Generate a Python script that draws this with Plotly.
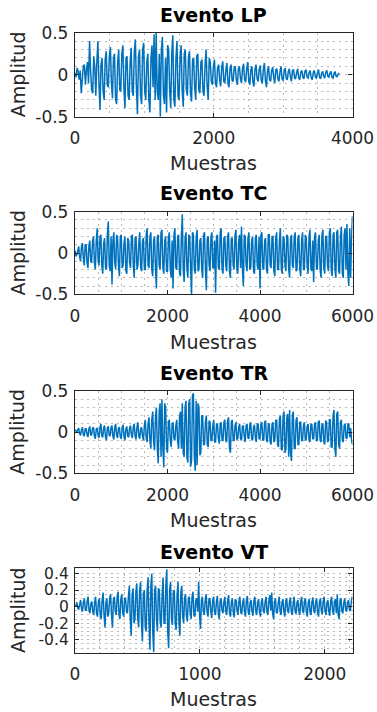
import numpy as np
import plotly.graph_objects as go

# ---------------- data ----------------
titles = ["Evento LP", "Evento TC", "Evento TR", "Evento VT"]
sample_steps = [15, 20, 20, 7.5]

lp_values = [
    0.02, -0.03, 0.08, 0.04, -0.06, 0.05, -0.22, -0.05, 0.1, 0.12, -0.12, 0.06, 0.15, -0.1, 0.4, 0.05, -0.18, -0.22, 0.22, 0.1,
    -0.25, 0.15, 0.4, -0.1, -0.42, 0.12, 0.2, -0.2, -0.3, 0.18, 0.28, -0.12, -0.15, 0.22, 0.33, -0.1, -0.28, 0.2, 0.25, -0.3,
    -0.35, 0.15, 0.3, -0.18, -0.2, 0.25, 0.35, -0.15, -0.4, 0.2, 0.22, -0.25, -0.3, 0.15, 0.32, -0.2, -0.25, 0.28, 0.42, -0.15,
    -0.47, 0.22, 0.3, -0.25, -0.35, 0.3, 0.38, -0.2, -0.3, 0.15, 0.25, -0.3, -0.45, 0.2, 0.35, -0.15, 0.48, -0.3, 0.5, -0.2,
    -0.3, 0.25, -0.5, 0.3, 0.45, -0.25, -0.35, 0.2, -0.45, 0.35, 0.3, -0.2, -0.4, 0.25, 0.47, -0.3, -0.38, 0.2, 0.4, -0.25,
    -0.3, 0.22, 0.35, -0.2, -0.38, 0.25, 0.3, -0.18, -0.25, 0.2, 0.28, -0.22, -0.32, 0.18, 0.2, -0.15, -0.3, 0.22, 0.25, -0.18,
    -0.22, 0.15, 0.18, -0.2, -0.25, 0.12, 0.3, -0.15, -0.3, 0.2, 0.15, -0.08, -0.12, 0.1, 0.18, -0.1, -0.15, 0.08, 0.12, -0.06,
    -0.14, 0.09, 0.16, -0.08, -0.1, 0.06, 0.14, -0.1, -0.15, 0.08, 0.12, -0.07, -0.08, 0.09, 0.1, -0.06, -0.12, 0.07, 0.1, -0.05,
    -0.1, 0.08, 0.13, -0.06, -0.09, 0.07, 0.15, -0.08, -0.12, 0.06, 0.1, -0.09, -0.14, 0.07, 0.12, -0.05, -0.08, 0.06, 0.11, -0.07,
    -0.1, 0.06, 0.14, -0.07, -0.15, 0.05, 0.1, -0.06, -0.08, 0.05, 0.09, -0.04, -0.1, 0.06, 0.07, -0.05, -0.08, 0.04, 0.1, -0.05,
    -0.07, 0.04, 0.08, -0.05, -0.06, 0.04, 0.07, -0.03, -0.08, 0.05, 0.06, -0.04, -0.05, 0.03, 0.07, -0.04, -0.06, 0.03, 0.05, -0.03,
    -0.05, 0.04, 0.06, -0.03, -0.04, 0.03, 0.05, -0.04, -0.06, 0.03, 0.05, -0.03, -0.04, 0.02, 0.06, -0.03, -0.05, 0.02, 0.04, -0.02,
    -0.04, 0.03, 0.05, -0.02, -0.03, 0.02, 0.04, -0.03, -0.04, 0.02, 0.03, -0.02, -0.02, 0.01, 0.02,
]

tc_values = [
    0.03, -0.04, -0.02, 0.06, 0.08, -0.05, -0.1, 0.08, 0.12, -0.06, -0.15, 0.1, 0.1, -0.12, -0.18, 0.08, 0.15, -0.1, -0.12, 0.15,
    0.2, -0.12, -0.2, 0.15, 0.3, -0.1, -0.15, 0.2, 0.22, -0.15, -0.25, 0.12, 0.18, -0.18, -0.2, 0.22, 0.38, -0.15, -0.22, 0.2,
    -0.38, 0.15, 0.25, -0.12, -0.2, 0.22, 0.18, -0.15, -0.28, 0.2, 0.22, -0.18, -0.15, 0.12, 0.2, -0.22, -0.25, 0.18, 0.15, -0.12,
    -0.18, 0.2, 0.22, -0.15, -0.3, 0.18, 0.2, -0.2, -0.15, 0.12, 0.25, -0.18, -0.22, 0.15, 0.18, -0.2, -0.2, 0.22, 0.3, -0.15,
    -0.18, 0.2, 0.25, -0.2, -0.28, 0.15, 0.2, -0.18, -0.43, 0.2, 0.22, -0.15, -0.2, 0.25, 0.28, -0.18, -0.25, 0.15, 0.2, -0.22,
    -0.22, 0.18, 0.25, -0.2, -0.3, 0.15, -0.43, 0.22, 0.3, -0.18, -0.2, 0.2, 0.22, -0.25, -0.28, 0.2, 0.47, -0.2, -0.35, 0.18,
    0.25, -0.2, -0.3, 0.22, 0.2, -0.18, -0.5, 0.25, 0.22, -0.2, -0.25, 0.18, 0.28, -0.22, -0.2, 0.15, 0.18, -0.2, -0.3, 0.22,
    0.25, -0.2, -0.45, 0.18, 0.2, -0.15, -0.22, 0.2, 0.25, -0.18, -0.18, 0.15, -0.48, 0.2, 0.22, -0.18, -0.2, 0.25, 0.3, -0.2,
    -0.25, 0.18, 0.2, -0.15, -0.22, 0.2, 0.25, -0.22, -0.3, 0.18, 0.18, -0.15, -0.2, 0.22, 0.28, -0.2, -0.25, 0.15, 0.22, -0.18,
    0.32, -0.2, -0.4, 0.22, 0.2, -0.15, -0.22, 0.18, 0.25, -0.2, -0.18, 0.15, 0.2, -0.22, -0.25, 0.18, 0.22, -0.15, -0.2, 0.2,
    -0.43, 0.22, 0.25, -0.18, -0.2, 0.15, 0.18, -0.2, -0.25, 0.22, 0.22, -0.15, -0.18, 0.2, 0.2, -0.22, -0.28, 0.18, 0.25, -0.2,
    -0.2, 0.15, 0.3, -0.18, -0.25, 0.2, 0.18, -0.15, -0.22, 0.22, 0.2, -0.2, -0.3, 0.18, 0.22, -0.15, -0.18, 0.2, 0.25, -0.22,
    -0.2, 0.18, 0.22, -0.2, -0.28, 0.15, 0.25, -0.2, -0.2, 0.22, 0.18, -0.15, -0.25, 0.2, 0.28, -0.18, -0.22, 0.15, -0.35, 0.2,
    0.25, -0.18, -0.2, 0.15, 0.22, -0.2, -0.3, 0.22, 0.28, -0.18, -0.25, 0.2, 0.2, -0.15, -0.22, 0.25, 0.3, -0.2, -0.28, 0.22,
    0.25, -0.2, -0.3, 0.25, 0.28, -0.22, -0.25, 0.2, 0.32, -0.25, -0.3, 0.22, 0.3, -0.2, 0.35, -0.25, -0.4, 0.3, -0.3, 0.2, 0.45,
]

tr_values = [
    0.03, 0.01, 0.0, 0.03, 0.05, -0.02, -0.04, 0.03, 0.06, -0.03, -0.05, 0.04, 0.04, -0.03, -0.06, 0.04, 0.07, -0.04, -0.03, 0.05,
    0.06, -0.05, -0.08, 0.04, 0.05, -0.04, -0.07, 0.06, 0.1, -0.05, -0.06, 0.05, 0.08, -0.06, -0.1, 0.05, 0.07, -0.04, -0.05, 0.06,
    0.08, -0.05, -0.09, 0.06, 0.1, -0.04, -0.07, 0.05, 0.06, -0.06, -0.08, 0.05, 0.09, -0.06, -0.1, 0.04, 0.07, -0.05, -0.06, 0.05,
    0.08, -0.04, -0.07, 0.06, 0.1, -0.05, -0.09, 0.06, 0.12, -0.05, -0.08, 0.04, 0.06, -0.05, -0.1, 0.08, 0.15, -0.08, -0.12, 0.1,
    0.18, -0.1, -0.2, 0.15, 0.25, -0.12, -0.22, 0.18, 0.3, -0.2, -0.38, 0.25, 0.35, -0.3, 0.4, -0.2, -0.43, 0.35, 0.3, -0.2,
    -0.25, 0.12, 0.15, -0.1, -0.18, 0.1, 0.12, -0.08, -0.1, 0.08, 0.15, -0.12, -0.2, 0.18, 0.25, -0.2, 0.35, -0.25, -0.3, 0.3,
    0.38, -0.3, -0.37, 0.35, 0.4, -0.42, -0.35, 0.45, 0.47, -0.3, -0.47, 0.38, -0.4, 0.35, 0.3, -0.28, -0.25, 0.2, 0.2, -0.15,
    -0.15, 0.12, 0.2, -0.15, -0.18, 0.14, 0.12, -0.1, -0.1, 0.08, 0.15, -0.12, -0.12, 0.1, 0.1, -0.08, -0.14, 0.1, 0.12, -0.1,
    -0.1, 0.12, 0.15, -0.1, -0.12, 0.14, 0.18, -0.2, -0.25, 0.12, 0.15, -0.1, -0.1, 0.08, 0.12, -0.09, -0.08, 0.06, 0.1, -0.08,
    -0.1, 0.07, 0.08, -0.06, -0.12, 0.08, 0.1, -0.07, -0.08, 0.09, 0.12, -0.08, -0.1, 0.06, 0.09, -0.07, -0.12, 0.1, 0.1, -0.08,
    -0.08, 0.1, 0.12, -0.09, -0.1, 0.12, 0.14, -0.1, -0.12, 0.1, 0.1, -0.12, -0.15, 0.1, 0.12, -0.12, -0.1, 0.14, 0.15, -0.15,
    -0.18, 0.16, 0.2, -0.2, -0.22, 0.2, 0.25, -0.25, -0.2, 0.18, 0.22, -0.3, 0.27, -0.25, -0.35, 0.2, 0.25, -0.2, -0.2, 0.15,
    0.18, -0.15, -0.15, 0.12, 0.12, -0.1, -0.1, 0.08, 0.12, -0.1, -0.08, 0.07, 0.1, -0.1, -0.12, 0.09, 0.1, -0.08, -0.08, 0.1,
    0.12, -0.1, -0.1, 0.12, 0.14, -0.1, -0.12, 0.1, 0.1, -0.12, -0.15, 0.14, 0.12, -0.12, -0.1, 0.15, 0.15, -0.18, -0.18, 0.2,
    0.27, -0.2, -0.3, 0.22, 0.25, -0.15, -0.2, 0.12, 0.15, -0.1, -0.12, 0.08, 0.1, -0.07, -0.08, 0.1, 0.1, -0.06, 0.05, -0.1, -0.15,
]

vt_values = [
    0.02, 0.0, 0.05, -0.02, -0.03, 0.04, 0.08, -0.03, -0.06, 0.05, 0.1, -0.04, -0.05, 0.07, 0.12, -0.05, -0.08, 0.04, 0.06, -0.06,
    -0.1, 0.05, 0.12, -0.08, -0.12, 0.06, 0.1, -0.1, -0.15, 0.08, 0.17, -0.1, -0.25, 0.05, 0.1, -0.12, -0.08, 0.1, 0.15, -0.1,
    -0.25, 0.08, 0.12, -0.06, -0.1, 0.12, 0.18, -0.1, -0.15, 0.1, 0.15, -0.08, -0.12, 0.1, 0.1, -0.06, -0.08, 0.12, 0.25, -0.15,
    -0.35, 0.15, 0.22, -0.2, -0.15, 0.18, 0.28, -0.15, -0.25, 0.2, 0.3, -0.2, -0.42, 0.15, 0.2, -0.25, -0.3, 0.2, 0.35, -0.2,
    -0.52, 0.25, 0.4, -0.3, -0.55, 0.2, 0.25, -0.15, -0.3, 0.22, 0.2, -0.18, -0.25, 0.15, 0.35, -0.2, -0.2, 0.25, 0.45, -0.3,
    -0.5, 0.2, 0.3, -0.15, -0.22, 0.18, 0.2, -0.2, -0.28, 0.15, 0.3, -0.2, -0.35, 0.18, 0.25, -0.12, -0.2, 0.1, 0.15, -0.12,
    -0.18, 0.1, 0.12, -0.08, -0.15, 0.12, 0.18, -0.1, -0.12, 0.08, 0.1, -0.06, 0.3, -0.1, -0.27, 0.08, 0.12, -0.06, -0.1, 0.08,
    0.15, -0.07, -0.12, 0.09, 0.1, -0.06, -0.14, 0.08, 0.12, -0.07, -0.1, 0.06, 0.13, -0.08, -0.15, 0.07, 0.1, -0.05, -0.08, 0.06,
    0.12, -0.06, -0.1, 0.07, 0.14, -0.08, -0.12, 0.06, 0.1, -0.07, -0.13, 0.08, 0.08, -0.05, -0.1, 0.06, 0.12, -0.07, -0.09, 0.05,
    0.1, -0.06, -0.12, 0.08, 0.13, -0.07, -0.1, 0.05, 0.08, -0.06, -0.11, 0.07, 0.12, -0.06, -0.1, 0.05, 0.09, -0.07, -0.12, 0.06,
    0.1, -0.05, -0.08, 0.06, 0.12, -0.07, -0.1, 0.08, 0.14, -0.05, 0.17, -0.08, -0.15, 0.06, 0.1, -0.07, -0.08, 0.05, 0.12, -0.06,
    -0.1, 0.05, 0.09, -0.06, -0.12, 0.07, 0.1, -0.05, -0.08, 0.06, 0.11, -0.07, -0.1, 0.05, 0.12, -0.06, -0.09, 0.05, 0.08, -0.06,
    -0.1, 0.06, 0.12, -0.05, -0.08, 0.07, 0.1, -0.06, -0.12, 0.05, 0.09, -0.07, -0.1, 0.06, 0.11, -0.05, -0.08, 0.06, 0.1, -0.07,
    -0.12, 0.06, 0.1, -0.05, -0.09, 0.07, 0.12, -0.06, -0.1, 0.05, 0.08, -0.06, -0.11, 0.07, 0.12, -0.05, -0.1, 0.06, 0.09, -0.08,
    0.15, -0.1, -0.15, 0.08, 0.1, -0.06, -0.08, 0.05, 0.1, -0.04, -0.06, 0.05, 0.08, -0.04, -0.05, 0.06, 0.12,
]

series = [lp_values, tc_values, tr_values, vt_values]

x_ranges = [[0, 4000], [0, 6000], [0, 6000], [0, 2222]]
y_ranges = [[-0.5, 0.5], [-0.5, 0.5], [-0.5, 0.5], [-0.555, 0.462]]

x_tickvals = [[0, 2000, 4000], [0, 2000, 4000, 6000], [0, 2000, 4000, 6000], [0, 1000, 2000]]
x_ticktext = [["0", "2000", "4000"], ["0", "2000", "4000", "6000"],
              ["0", "2000", "4000", "6000"], ["0", "1000", "2000"]]
y_tickvals = [[-0.5, 0, 0.5], [-0.5, 0, 0.5], [-0.5, 0, 0.5], [-0.4, -0.2, 0, 0.2, 0.4]]
y_ticktext = [["-0.5", "0", "0.5"], ["-0.5", "0", "0.5"], ["-0.5", "0", "0.5"],
              ["-0.4", "-0.2", "0", "0.2", "0.4"]]
x_minor = [500, 500, 500, 200]
y_minor = [0.1, 0.1, 0.1, 0.05]

xlabel = "Muestras"
ylabel = "Amplitud"

# ---------------- layout (pixel geometry of the reference) ----------------
W, H = 377, 712
x_left, x_right = 75, 352.5
panels_px = [(32.7, 116.7), (211.7, 294.3), (391.0, 473.3), (568.3, 652.7)]
title_y_px = [15, 193, 373, 552]
xlabel_y_px = [163, 342, 520, 699]
ytick_size = [17, 17, 17, 15.5]

LINE_COLOR = "#0072BD"
AX_COLOR = "#262626"
GRID_COLOR = "#b8b8b8"
FONT = "DejaVu Sans"

fig = go.Figure()
annotations = []
for i in range(4):
    vals = series[i]
    xs = np.arange(len(vals)) * sample_steps[i]
    xs = np.minimum(xs, x_ranges[i][1])
    ax_suffix = "" if i == 0 else str(i + 1)
    fig.add_trace(go.Scatter(
        x=xs, y=vals, mode="lines",
        line=dict(color=LINE_COLOR, width=1.5),
        xaxis="x" + ax_suffix, yaxis="y" + ax_suffix,
        showlegend=False, hoverinfo="skip",
    ))
    top, bot = panels_px[i]
    ydom = [1 - bot / H, 1 - top / H]
    xdom = [x_left / W, x_right / W]
    common = dict(
        showline=True, linecolor=AX_COLOR, linewidth=1.3, mirror="ticks",
        ticks="inside", ticklen=4, tickwidth=1, tickcolor=AX_COLOR,
        showgrid=True, gridcolor=GRID_COLOR, griddash="2px,4px", gridwidth=1,
        zeroline=False, automargin=False,
    )
    fig.update_layout(**{
        "xaxis" + ax_suffix: dict(
            domain=xdom, range=x_ranges[i], anchor="y" + ax_suffix,
            tickmode="array", tickvals=x_tickvals[i], ticktext=x_ticktext[i],
            minor=dict(dtick=x_minor[i], tick0=0, showgrid=True, gridcolor=GRID_COLOR,
                       griddash="2px,4px", gridwidth=1, ticks=""),
            ticklabelstandoff=6,
            tickfont=dict(family=FONT, size=17, color=AX_COLOR),
            **common),
        "yaxis" + ax_suffix: dict(
            domain=ydom, range=y_ranges[i], anchor="x" + ax_suffix,
            tickmode="array", tickvals=y_tickvals[i], ticktext=y_ticktext[i],
            minor=dict(dtick=y_minor[i], tick0=0, showgrid=True, gridcolor=GRID_COLOR,
                       griddash="2px,4px", gridwidth=1, ticks=""),
            ticklabelstandoff=2,
            tickfont=dict(family=FONT, size=ytick_size[i], color=AX_COLOR),
            **common),
    })
    cx = (x_left + x_right) / 2 / W
    annotations.append(dict(
        text="<b>" + titles[i] + "</b>", x=cx, y=1 - title_y_px[i] / H,
        xref="paper", yref="paper", xanchor="center", yanchor="middle",
        showarrow=False, font=dict(family=FONT, size=19, color="#000000")))
    annotations.append(dict(
        text=xlabel, x=cx, y=1 - xlabel_y_px[i] / H,
        xref="paper", yref="paper", xanchor="center", yanchor="middle",
        showarrow=False, font=dict(family=FONT, size=19, color=AX_COLOR)))
    annotations.append(dict(
        text=ylabel, x=17.5 / W, y=1 - (top + bot) / 2 / H, textangle=-90,
        xref="paper", yref="paper", xanchor="center", yanchor="middle",
        showarrow=False, font=dict(family=FONT, size=19, color=AX_COLOR)))

fig.update_layout(
    width=W, height=H, autosize=False,
    margin=dict(l=0, r=0, t=0, b=0, pad=0),
    paper_bgcolor="white", plot_bgcolor="white",
    annotations=annotations,
)

fig.write_html("out.html", include_plotlyjs=True, full_html=True,
               config={"displayModeBar": False, "responsive": False})

# remove the default page margin so the figure sits at the window's top-left corner
with open("out.html", "r", encoding="utf-8") as f:
    html = f.read()
html = html.replace("<body>", '<body style="margin:0;padding:0;overflow:hidden">', 1)
with open("out.html", "w", encoding="utf-8") as f:
    f.write(html)
